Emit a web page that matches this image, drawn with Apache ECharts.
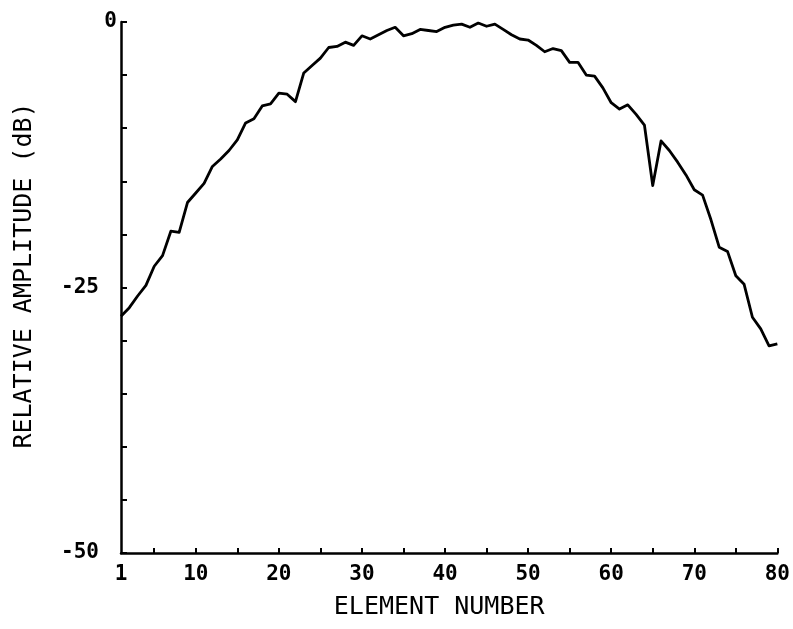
<!DOCTYPE html>
<html>
<head>
<meta charset="utf-8">
<script src="https://cdn.jsdelivr.net/npm/echarts@6/dist/echarts.min.js"></script>
<style>
  html, body { margin: 0; padding: 0; background: #ffffff; }
  #chart { width: 793px; height: 629px; }
</style>
</head>
<body>
<div id="chart"></div>
<script>
// Relative amplitude (dB) measured on each array element, elements 1..80
const amplitudeDb = [
  -27.7, -26.9, -25.8, -24.8, -23.0, -22.0, -19.7, -19.8, -17.0, -16.1,
  -15.2, -13.6, -12.9, -12.1, -11.1,  -9.5,  -9.1,  -7.9,  -7.7,  -6.7,
   -6.8,  -7.5,  -4.8,  -4.1,  -3.4,  -2.4,  -2.3,  -1.9,  -2.2,  -1.3,
   -1.6,  -1.2,  -0.8,  -0.5,  -1.3,  -1.1,  -0.7,  -0.8,  -0.9,  -0.5,
   -0.3,  -0.2,  -0.5,  -0.1,  -0.4,  -0.2,  -0.7,  -1.2,  -1.6,  -1.7,
   -2.2,  -2.8,  -2.5,  -2.7,  -3.8,  -3.8,  -5.0,  -5.1,  -6.2,  -7.6,
   -8.2,  -7.8,  -8.7,  -9.7, -15.4, -11.2, -12.1, -13.2, -14.4, -15.8,
  -16.3, -18.6, -21.2, -21.6, -23.9, -24.7, -27.8, -28.9, -30.5, -30.3
];

// Axis ticks and labels
const xTicks = [5, 10, 15, 20, 25, 30, 35, 40, 45, 50, 55, 60, 65, 70, 75, 80];
const xTickLabels = [1, 10, 20, 30, 40, 50, 60, 70, 80];
const yTickLabels = [0, -25, -50];

const xTitle = 'ELEMENT NUMBER';
const yTitle = 'RELATIVE AMPLITUDE (dB)';

const points = amplitudeDb.map((v, i) => [i + 1, v]);

const labelFont = 'DejaVu Sans Mono';
const titleFont = 'DejaVu Sans Mono';

const chart = echarts.init(document.getElementById('chart'), null, { renderer: 'canvas' });

chart.setOption({
  animation: false,
  backgroundColor: '#ffffff',
  grid: { left: 121, right: 12, top: 22, bottom: 76, containLabel: false },
  xAxis: {
    type: 'value',
    min: 1,
    max: 80,
    name: xTitle,
    nameLocation: 'middle',
    nameGap: 42,
    nameTextStyle: {
      fontFamily: titleFont, fontSize: 25, color: '#000', padding: [0, 20, 0, 0]
    },
    splitLine: { show: false },
    axisLine: { show: true, onZero: false, lineStyle: { color: '#000', width: 2.5 } },
    axisTick: {
      show: true, inside: true, length: 5,
      customValues: xTicks,
      lineStyle: { color: '#000', width: 2 }
    },
    axisLabel: {
      show: true, margin: 11,
      customValues: xTickLabels,
      fontFamily: labelFont, fontWeight: 'bold', fontSize: 21, color: '#000'
    }
  },
  yAxis: {
    type: 'value',
    min: -50,
    max: 0,
    interval: 5,
    name: yTitle,
    nameLocation: 'middle',
    nameGap: 84,
    nameRotate: 90,
    nameTextStyle: {
      fontFamily: titleFont, fontSize: 25, color: '#000', padding: [0, 0, 0, 24]
    },
    splitLine: { show: false },
    axisLine: { show: true, onZero: false, lineStyle: { color: '#000', width: 2.5 } },
    axisTick: {
      show: true, inside: true, length: 6,
      lineStyle: { color: '#000', width: 2 }
    },
    axisLabel: {
      show: true, margin: 4,
      customValues: yTickLabels,
      fontFamily: labelFont, fontWeight: 'bold', fontSize: 21, color: '#000',
      formatter: function (v) {
        return v === 0 ? '{z|0}' : '{n|' + v + '}';
      },
      rich: {
        z: { fontFamily: labelFont, fontWeight: 'bold', fontSize: 21, color: '#000' },
        n: { fontFamily: labelFont, fontWeight: 'bold', fontSize: 21, color: '#000', padding: [0, 18, 0, 0] }
      }
    }
  },
  series: [{
    type: 'line',
    data: points,
    showSymbol: false,
    smooth: false,
    lineStyle: { color: '#000', width: 2.8, join: 'round' }
  }]
});
</script>
</body>
</html>
